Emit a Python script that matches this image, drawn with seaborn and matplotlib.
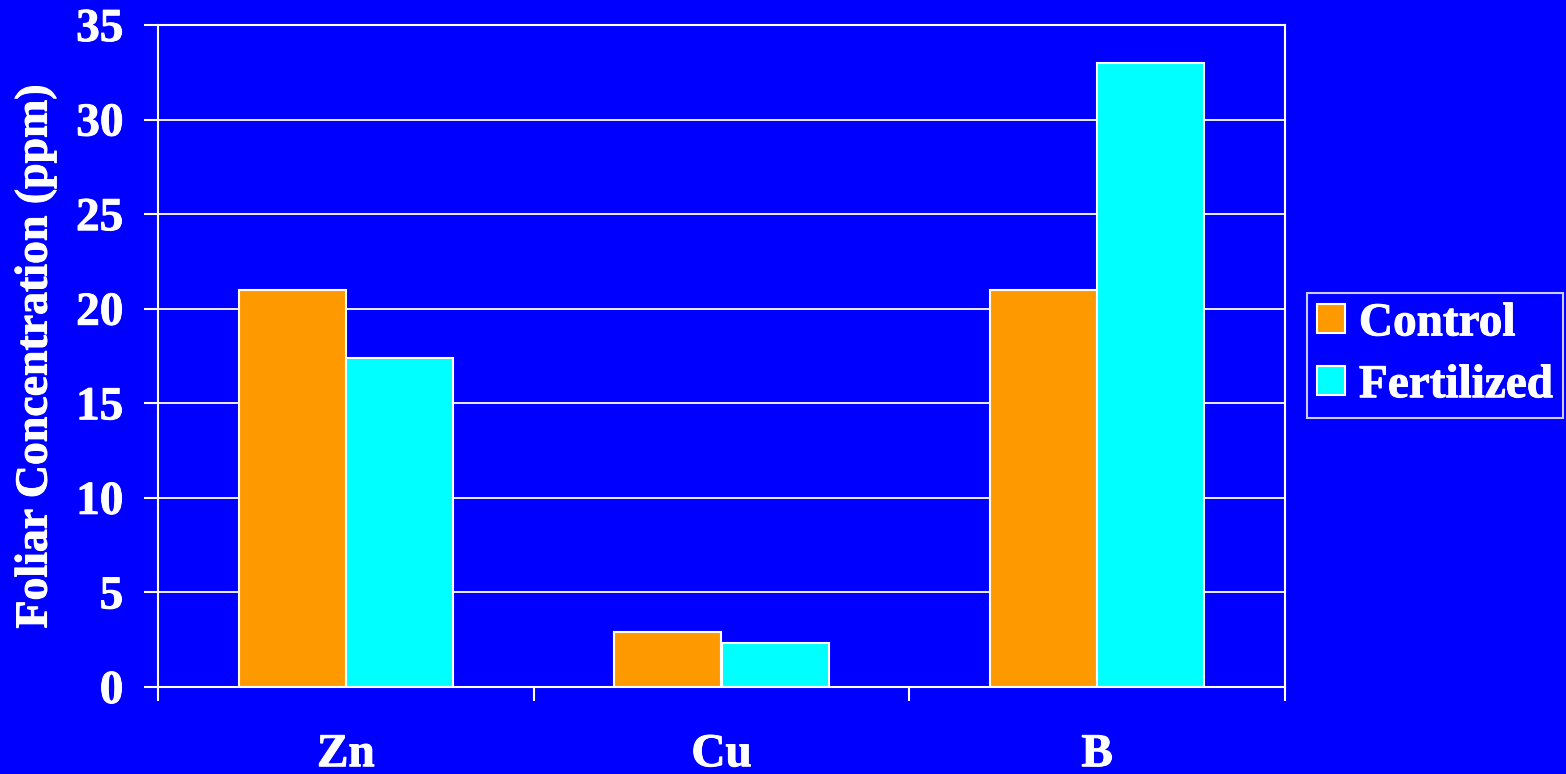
import matplotlib
matplotlib.use("Agg")
import matplotlib.pyplot as plt
import matplotlib.patheffects as pe
import seaborn as sns
import pandas as pd

# Foliar micronutrient concentrations by treatment
elements = ["Zn", "Cu", "B"]
control = [21.0, 2.9, 21.0]
fertilized = [17.4, 2.3, 33.0]
treatments = ["Control", "Fertilized"]
yticks = [0, 5, 10, 15, 20, 25, 30, 35]

df = pd.DataFrame({
    "Element": elements * 2,
    "Treatment": [treatments[0]] * 3 + [treatments[1]] * 3,
    "ppm": control + fertilized,
})

sns.set_theme(style="white")
plt.rcParams["font.family"] = ["Liberation Serif", "DejaVu Serif"]
plt.rcParams["font.weight"] = "bold"

BG = "#0000FF"
FG = "white"
COLORS = ["#FF9900", "#00FFFF"]
# slightly heavier strokes on the serif glyphs
HEAVY = [pe.withStroke(linewidth=0.7, foreground=FG)]

fig = plt.figure(figsize=(15.66, 7.74), dpi=100, facecolor=BG)
ax = fig.add_axes([158 / 1566, 1 - 687 / 774, (1285 - 158) / 1566, (687 - 25) / 774])
ax.set_facecolor(BG)

sns.barplot(data=df, x="Element", y="ppm", hue="Treatment", order=elements,
            hue_order=treatments, palette=COLORS, saturation=1,
            width=0.57, gap=0, edgecolor=FG, linewidth=1.5, ax=ax, legend=False)

ax.set_xlim(-0.5, 2.5)
ax.set_ylim(0, 35)
ax.set_yticks(yticks)
ax.set_yticklabels([str(v) for v in yticks], fontsize=34, fontweight="bold", color=FG)
ax.yaxis.grid(True, color=FG, linewidth=1.3)
ax.set_axisbelow(True)

ax.set_xticks(range(len(elements)))
ax.set_xticklabels(elements, fontsize=34, fontweight="bold", color=FG)
ax.set_xticks([-0.5, 0.5, 1.5, 2.5], minor=True)
ax.tick_params(axis="x", which="major", length=0, pad=34)
ax.tick_params(axis="x", which="minor", bottom=True, length=10, width=1.5,
               color=FG, direction="out")
ax.tick_params(axis="y", left=True, length=10, width=1.5, color=FG,
               direction="out", pad=15)

for side in ["left", "bottom", "right", "top"]:
    ax.spines[side].set_visible(True)
    ax.spines[side].set_color(FG)
    ax.spines[side].set_linewidth(1.5)

ax.set_xlabel("")
ax.set_ylabel("Foliar Concentration (ppm)", fontsize=33, fontweight="bold",
              color=FG, labelpad=14)

handles = [plt.Rectangle((0, 0), 1, 1, facecolor=c, edgecolor=FG, linewidth=1.5)
           for c in COLORS]
leg = fig.legend(handles, treatments, loc="upper left",
                 bbox_to_anchor=(1307 / 1566, 1 - 293 / 774),
                 frameon=True, fancybox=False, facecolor=BG, edgecolor=FG,
                 prop={"size": 34, "weight": "bold"}, labelcolor=FG,
                 handlelength=0.58, handleheight=0.58, handletextpad=0.3,
                 borderpad=0.22, labelspacing=0.42, borderaxespad=0)
leg.get_frame().set_linewidth(1.5)

texts = ax.get_yticklabels() + ax.get_xticklabels() + [ax.yaxis.label] + leg.get_texts()
for t in texts:
    t.set_path_effects(HEAVY)

fig.savefig("out.png", dpi=100, facecolor=BG)
